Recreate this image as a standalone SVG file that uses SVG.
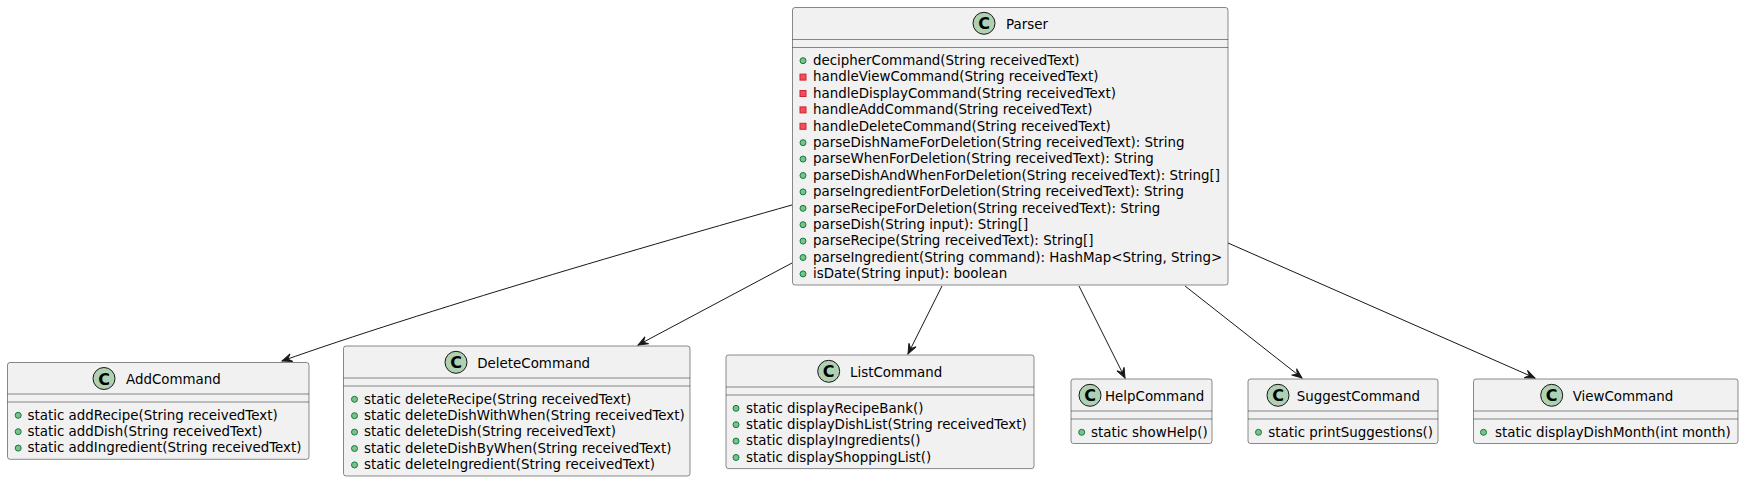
<svg xmlns="http://www.w3.org/2000/svg" xmlns:xlink="http://www.w3.org/1999/xlink" width="1744" height="482" viewBox="0 0 1744 482">
<style>
.box{fill:#F1F1F1;stroke:#181818;stroke-width:0.5}
.sep{stroke:#181818;stroke-width:0.5}
.t{font-family:"DejaVu Sans","Liberation Sans",sans-serif;font-size:13.4px;fill:#000000}
.icon{fill:#ADD1B2;stroke:#181818;stroke-width:1}
.ic{font-family:"DejaVu Sans","Liberation Sans",sans-serif;font-weight:bold;font-size:16px;fill:#000000;text-anchor:middle}
.pub{fill:#84BE84;stroke:#038048;stroke-width:1}
.priv{fill:#F24D5C;stroke:#C82930;stroke-width:1}
.edge{fill:none;stroke:#181818;stroke-width:1;marker-end:url(#arr)}
</style>
<defs>
<marker id="arr" markerUnits="userSpaceOnUse" viewBox="-11 -5 12 10" refX="0" refY="0" markerWidth="12" markerHeight="10" orient="auto">
<path d="M0,0 L-10,-4 L-6,0 L-10,4 Z" fill="#181818" stroke="#181818" stroke-width="1" stroke-linejoin="miter"/>
</marker>
<circle id="pub" class="pub" r="3" cx="0" cy="0"/>
<rect id="priv" class="priv" x="-3" y="-3" width="6" height="6"/>
</defs>

<g id="connectors">
<path class="edge" d="M792,205 C650,245 420,312 282,361"/>
<path class="edge" d="M792,263 L638,345"/>
<path class="edge" d="M942,286 L908,354"/>
<path class="edge" d="M1079,286 L1125,378"/>
<path class="edge" d="M1185,286 L1302,378"/>
<path class="edge" d="M1228,243 L1535,378"/>
</g>

<g id="Parser">
<rect class="box" x="792.5" y="7.5" width="435.5" height="277.5" rx="2.5"/>
<circle class="icon" cx="984" cy="23.3" r="11"/>
<text class="ic" x="984" y="29.3">C</text>
<text class="t" x="1006" y="28.5">Parser</text>
<line class="sep" x1="792.5" y1="39.5" x2="1228" y2="39.5"/>
<line class="sep" x1="792.5" y1="47.5" x2="1228" y2="47.5"/>
<use href="#pub" x="803" y="60.7"/><text class="t" x="813" y="65">decipherCommand(String receivedText)</text>
<use href="#priv" x="803" y="77.1"/><text class="t" x="813" y="81.4">handleViewCommand(String receivedText)</text>
<use href="#priv" x="803" y="93.5"/><text class="t" x="813" y="97.8">handleDisplayCommand(String receivedText)</text>
<use href="#priv" x="803" y="109.9"/><text class="t" x="813" y="114.2">handleAddCommand(String receivedText)</text>
<use href="#priv" x="803" y="126.3"/><text class="t" x="813" y="130.6">handleDeleteCommand(String receivedText)</text>
<use href="#pub" x="803" y="142.7"/><text class="t" x="813" y="147">parseDishNameForDeletion(String receivedText): String</text>
<use href="#pub" x="803" y="159.1"/><text class="t" x="813" y="163.4">parseWhenForDeletion(String receivedText): String</text>
<use href="#pub" x="803" y="175.5"/><text class="t" x="813" y="179.8">parseDishAndWhenForDeletion(String receivedText): String[]</text>
<use href="#pub" x="803" y="191.9"/><text class="t" x="813" y="196.2">parseIngredientForDeletion(String receivedText): String</text>
<use href="#pub" x="803" y="208.3"/><text class="t" x="813" y="212.6">parseRecipeForDeletion(String receivedText): String</text>
<use href="#pub" x="803" y="224.7"/><text class="t" x="813" y="229">parseDish(String input): String[]</text>
<use href="#pub" x="803" y="241.1"/><text class="t" x="813" y="245.4">parseRecipe(String receivedText): String[]</text>
<use href="#pub" x="803" y="257.5"/><text class="t" x="813" y="261.8">parseIngredient(String command): HashMap&lt;String, String&gt;</text>
<use href="#pub" x="803" y="273.9"/><text class="t" x="813" y="278.2">isDate(String input): boolean</text>
</g>

<g id="AddCommand">
<rect class="box" x="7.5" y="362.5" width="301.5" height="96.8" rx="2.5"/>
<circle class="icon" cx="104" cy="378.5" r="11"/>
<text class="ic" x="104" y="384.5">C</text>
<text class="t" x="126" y="383.8">AddCommand</text>
<line class="sep" x1="7.5" y1="394" x2="309" y2="394"/>
<line class="sep" x1="7.5" y1="402" x2="309" y2="402"/>
<use href="#pub" x="18.2" y="415.3"/><text class="t" x="27.5" y="419.6">static addRecipe(String receivedText)</text>
<use href="#pub" x="18.2" y="431.7"/><text class="t" x="27.5" y="436">static addDish(String receivedText)</text>
<use href="#pub" x="18.2" y="448.1"/><text class="t" x="27.5" y="452.4">static addIngredient(String receivedText)</text>
</g>

<g id="DeleteCommand">
<rect class="box" x="343.5" y="346" width="346.5" height="130" rx="2.5"/>
<circle class="icon" cx="456" cy="362.3" r="11"/>
<text class="ic" x="456" y="368.3">C</text>
<text class="t" x="477.3" y="367.5">DeleteCommand</text>
<line class="sep" x1="343.5" y1="378" x2="690" y2="378"/>
<line class="sep" x1="343.5" y1="386" x2="690" y2="386"/>
<use href="#pub" x="354.5" y="399.3"/><text class="t" x="364" y="403.6">static deleteRecipe(String receivedText)</text>
<use href="#pub" x="354.5" y="415.7"/><text class="t" x="364" y="420">static deleteDishWithWhen(String receivedText)</text>
<use href="#pub" x="354.5" y="432.1"/><text class="t" x="364" y="436.4">static deleteDish(String receivedText)</text>
<use href="#pub" x="354.5" y="448.5"/><text class="t" x="364" y="452.8">static deleteDishByWhen(String receivedText)</text>
<use href="#pub" x="354.5" y="464.9"/><text class="t" x="364" y="469.2">static deleteIngredient(String receivedText)</text>
</g>

<g id="ListCommand">
<rect class="box" x="726" y="355" width="308" height="113.6" rx="2.5"/>
<circle class="icon" cx="828.7" cy="371.3" r="11"/>
<text class="ic" x="828.7" y="377.3">C</text>
<text class="t" x="850" y="376.5">ListCommand</text>
<line class="sep" x1="726" y1="387" x2="1034" y2="387"/>
<line class="sep" x1="726" y1="395" x2="1034" y2="395"/>
<use href="#pub" x="736" y="408.3"/><text class="t" x="746" y="412.6">static displayRecipeBank()</text>
<use href="#pub" x="736" y="424.7"/><text class="t" x="746" y="429">static displayDishList(String receivedText)</text>
<use href="#pub" x="736" y="441.1"/><text class="t" x="746" y="445.4">static displayIngredients()</text>
<use href="#pub" x="736" y="457.5"/><text class="t" x="746" y="461.8">static displayShoppingList()</text>
</g>

<g id="HelpCommand">
<rect class="box" x="1071" y="379" width="141" height="64.5" rx="2.5"/>
<circle class="icon" cx="1090" cy="395.3" r="11"/>
<text class="ic" x="1090" y="401.3">C</text>
<text class="t" x="1105" y="400.5">HelpCommand</text>
<line class="sep" x1="1071" y1="411" x2="1212" y2="411"/>
<line class="sep" x1="1071" y1="419" x2="1212" y2="419"/>
<use href="#pub" x="1081.7" y="432.3"/><text class="t" x="1091" y="436.6">static showHelp()</text>
</g>

<g id="SuggestCommand">
<rect class="box" x="1248" y="379" width="190" height="64.5" rx="2.5"/>
<circle class="icon" cx="1278" cy="395.3" r="11"/>
<text class="ic" x="1278" y="401.3">C</text>
<text class="t" x="1296.7" y="400.5">SuggestCommand</text>
<line class="sep" x1="1248" y1="411" x2="1438" y2="411"/>
<line class="sep" x1="1248" y1="419" x2="1438" y2="419"/>
<use href="#pub" x="1258.5" y="432.3"/><text class="t" x="1268.3" y="436.6">static printSuggestions()</text>
</g>

<g id="ViewCommand">
<rect class="box" x="1473.5" y="379" width="264.5" height="64.5" rx="2.5"/>
<circle class="icon" cx="1551.7" cy="395.3" r="11"/>
<text class="ic" x="1551.7" y="401.3">C</text>
<text class="t" x="1572.7" y="400.5">ViewCommand</text>
<line class="sep" x1="1473.5" y1="411" x2="1738" y2="411"/>
<line class="sep" x1="1473.5" y1="419" x2="1738" y2="419"/>
<use href="#pub" x="1483.5" y="432.3"/><text class="t" x="1495" y="436.6">static displayDishMonth(int month)</text>
</g>
</svg>
